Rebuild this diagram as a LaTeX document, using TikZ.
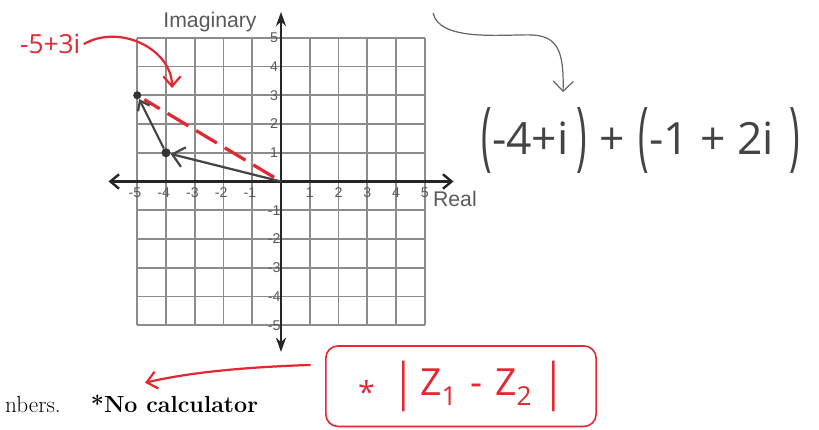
\documentclass[tikz,border=0pt]{standalone}
\usepackage{fontspec}
\usepackage{graphicx}
\usetikzlibrary{arrows.meta, positioning}
\newfontfamily\etiqfont{Liberation Sans}
\newfontfamily\manofont{Open Sans}
\definecolor{tintaroja}{RGB}{228,40,50}
\definecolor{tintagris}{RGB}{68,68,68}
\definecolor{rejillagris}{RGB}{140,140,140}
\newcommand{\parAbre}{\raisebox{-0.14em}{\scalebox{0.8}[1.7]{(}}}
\newcommand{\parCierra}{\raisebox{-0.14em}{\scalebox{0.8}[1.7]{)}}}
\newcommand{\barra}{\raisebox{-0.1em}{\scalebox{1}[1.35]{|}}}
\tikzset{
  rejilla/.style={draw=rejillagris, line width=1.6pt},
  eje/.style={line width=2.4pt, color=black!85},
  numero/.style={font=\etiqfont\fontsize{14}{14}\selectfont, text=black!65, inner sep=0.5pt},
  etiq/.style={font=\etiqfont\fontsize{21}{21}\selectfont, text=black!65},
  punto/.style={circle, fill=black!80, inner sep=0pt, minimum size=9pt},
  mano/.style={font=\manofont, align=center},
  flechagris/.style={-{Straight Barb[length=4mm, width=7mm]}, line width=2.2pt, color=tintagris},
  flecharoja/.style={-{Straight Barb[length=3.5mm, width=6mm]}, line width=2.2pt, color=tintaroja},
  trazofino/.style={-{Straight Barb[length=3.5mm, width=7mm]}, line width=1.2pt, color=black!60},
  recuadro/.style={draw=tintaroja, line width=1.6pt, rounded corners=12pt,
    minimum width=94mm, minimum height=28mm}
}
\begin{document}
\begin{tikzpicture}
  \useasboundingbox (-9.774,-8.643) rectangle (18.713,6.313);
  % plano complejo
  \draw[rejilla] (-5,-5) grid (5,5);
  \draw[eje, {Straight Barb[length=3mm, width=5mm]}-{Straight Barb[length=3mm, width=5mm]}] (-6,0) -- (6,0);
  \draw[eje, {Stealth[length=5mm, width=3.5mm]}-{Stealth[length=5mm, width=3.5mm]}] (0,-5.93) -- (0,5.9);
  \foreach \x in {-5,-4,-3,-2,-1}
    \node[numero] at (\x-0.08,-0.4) {\x};
  \foreach \x in {1,2,3,4,5}
    \node[numero] at (\x,-0.4) {\x};
  \foreach \y in {-5,-4,-3,-2,-1,1,2,3,4,5}
    \node[numero] at (-0.24,\y) {\y};
  \node[etiq] (imag) at (-2.47,5.56) {Imaginary};
  \node[etiq] (real) at (6.05,-0.61) {Real};

  % vectores
  \coordinate (O) at (0,0);
  \node[punto] (p1) at (-4,1) {};
  \node[punto, minimum size=8pt] (p2) at (-5,3) {};
  \draw[tintaroja, line width=3.2pt, dash pattern=on 24pt off 9pt,
    shorten <=8pt, shorten >=4pt] (O) -- (p2);
  \draw[flechagris] (O) -- (p1);
  \draw[flechagris, -{Straight Barb[length=3mm, width=4.5mm]}] (p1) -- (p2);

  % etiqueta roja
  \node[mano, text=tintaroja, font=\manofont\fontsize{26}{26}\selectfont] (z1) at (-8.03,4.78) {-5+3i};
  \coordinate (rpunta) at (-3.79,3.25);
  \draw[flecharoja] (z1.east) .. controls (-5.6,5.5) and (-3.8,4.6) .. (rpunta);

  % suma
  \coordinate (cini) at (5.29,5.86);
  \coordinate (cpunta) at (9.81,3.11);
  \draw[trazofino] (cini) .. controls (5.5,4.9) and (7.5,5.1) .. (8.6,5.1)
    .. controls (9.6,5.1) and (9.85,4.6) .. (cpunta);
  \node[mano, text=tintagris, font=\manofont\fontsize{44}{44}\selectfont] (expr) at (12.52,1.44)
    {\parAbre-4+i\,\parCierra\hspace{0.3em}+\hspace{0.3em}\parAbre-1 + 2i\hspace{0.35em}\parCierra};

  % recuadro y nota
  \node[recuadro, text=tintaroja, font=\manofont\fontsize{37}{37}\selectfont] (caja) at (6.26,-7.12)
    {{\fontsize{30}{30}\selectfont\raisebox{-8pt}{*}}\hspace{0.5em}\barra\,Z\textsubscript{1}\hspace{0.35em}-\hspace{0.35em}Z\textsubscript{2}\hspace{0.3em}\barra};
  \coordinate (rfin) at (-4.73,-7.0);
  \draw[flecharoja] ([xshift=-5mm, yshift=7.4mm]caja.west) .. controls (-1,-6.45) and (-3,-6.6) .. (rfin);
  \node[anchor=base west, font=\fontsize{23}{23}\selectfont] (nota) at (-9.72,-8.02)
    {nbers.\quad\ \textbf{*No calculator}};
\end{tikzpicture}
\end{document}
